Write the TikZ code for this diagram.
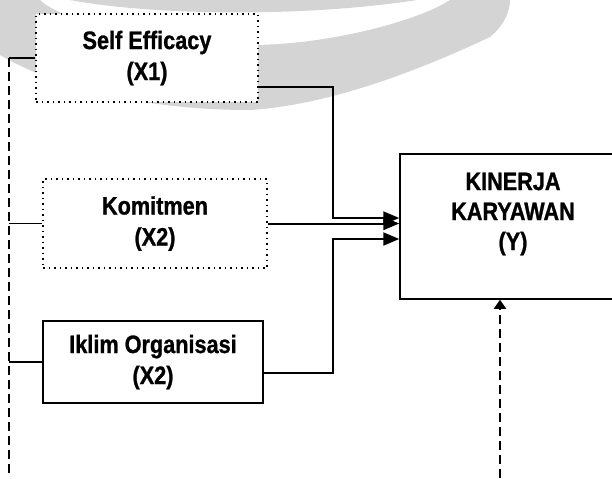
\documentclass[tikz,border=0pt]{standalone}
\usepackage{fontspec}
\setmainfont{Liberation Sans}
\newfontfamily\varfont{Liberation Sans}[FakeStretch=0.86, BoldFeatures={FakeBold=1}]
\usetikzlibrary{arrows.meta,positioning,calc}

\begin{document}
\begin{tikzpicture}[x=0.5pt, y=-0.5pt,
    varbox/.style={draw, line width=0.75pt, fill=white, align=center,
        font=\varfont\fontsize{12.6}{15.5}\selectfont\bfseries},
    dotbox/.style={varbox, dotted, line width=0.8pt},
    link/.style={line width=1pt},
    bigtip/.style={-{Triangle[length=8pt,width=6.5pt]}},
    smalltip/.style={-{Triangle[length=4.5pt,width=6pt]}},
    dashlink/.style={line width=1pt, dash pattern=on 4.5pt off 2.5pt}]
    \useasboundingbox (0,0) rectangle (612,478);
    \clip (0,0) rectangle (612,478);

    % Watermark (background)
    \fill[black!17] (0,0) -- (0,55) .. controls (60,90) and (150,110) .. (250,110)
        .. controls (330,105) and (420,70) .. (490,37)
        .. controls (505,25) and (510,10) .. (510,0) -- (450,0)
        .. controls (420,20) and (330,45) .. (250,45)
        .. controls (150,45) and (60,20) .. (40,0) -- cycle;
    \fill[black!17] (70,0) .. controls (150,15) and (300,18) .. (417,0) -- cycle;

    % Variables X
    \node[dotbox, minimum width=111pt, minimum height=44pt] (se) at (147,58) {Self Efficacy\\(X1)};
    \node[dotbox, minimum width=112pt, minimum height=44.5pt] (km) at (155,223.5) {Komitmen\\(X2)};
    \node[varbox, minimum width=110pt, minimum height=41pt] (io) at (153,362) {Iklim Organisasi\\(X2)};

    % Variable Y
    \node[varbox, minimum width=113pt, minimum height=72.5pt] (ky) at (513,226.5) {};
    \node[align=center, font=\varfont\fontsize{12.6}{15}\selectfont\bfseries] (kytext) at (513,214)
        {KINERJA\\KARYAWAN\\(Y)};

    % X to Y
    \draw[link, bigtip] ([yshift=8pt]se.south east) -- ++(74,0) |- ([yshift=4.25pt]ky.west);
    \draw[link, bigtip] (km.east) -- (km.east -| ky.west);
    \draw[link, bigtip] ([yshift=-5.5pt]io.east) -- ++(69,0) |- ([yshift=-6.25pt]ky.west);

    % Left dashed line
    \coordinate (leftTop) at (9,58);
    \coordinate (leftEnd) at (9,478);
    \draw[dashlink] (leftTop) -- (leftEnd);
    \draw[line width=0.75pt] (se.west) -- (se.west -| leftTop);
    \draw[line width=0.75pt] (km.west) -- (km.west -| leftTop);
    \draw[line width=0.75pt] (io.west) -- (io.west -| leftTop);

    % Dashed line into Y
    \coordinate (botEnd) at (500,478);
    \draw[dashlink, smalltip] (botEnd) -- (botEnd |- ky.south);
\end{tikzpicture}
\end{document}
